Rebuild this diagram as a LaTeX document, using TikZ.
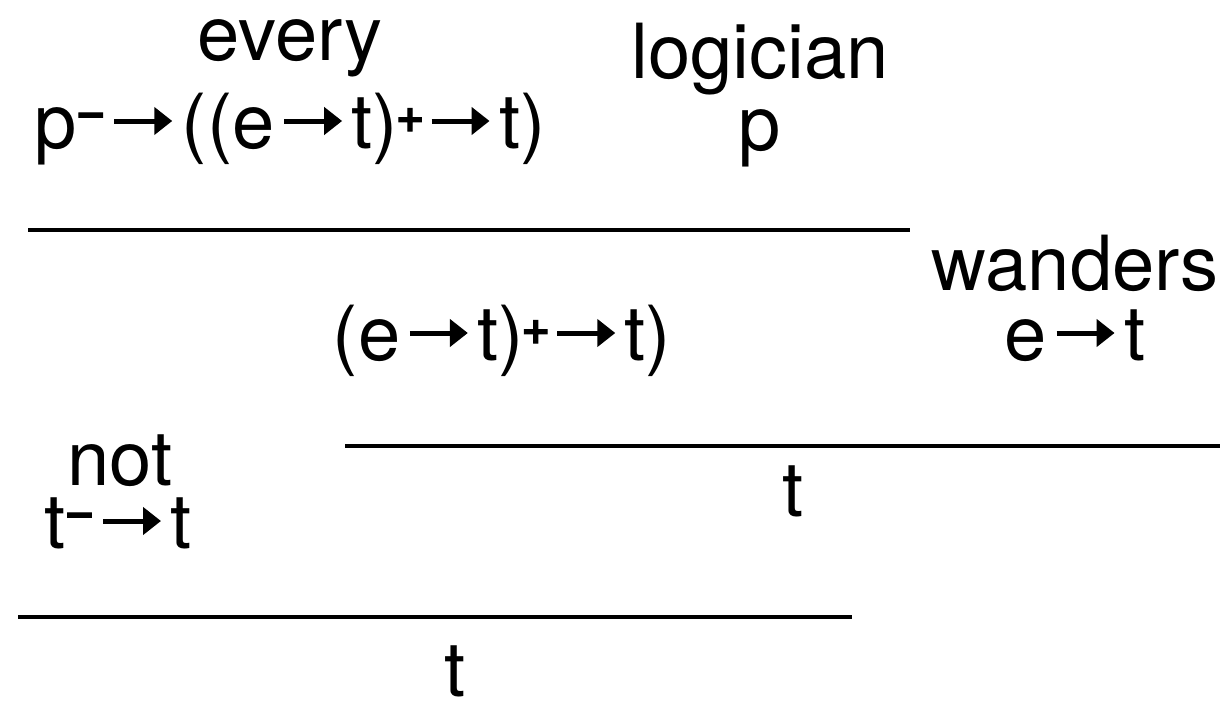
\documentclass[tikz,border=0pt]{standalone}
\usepackage{fontspec}
\setmainfont{TeX Gyre Heros}
\newfontfamily\supfont[FakeBold=3]{DejaVu Sans}
\usetikzlibrary{arrows.meta}
\newcommand\myar{\hspace{7pt}\tikz[baseline=0pt]\draw[line width=5pt,-{Triangle[length=18pt,width=27pt]}] (0pt,27pt) -- (58pt,27pt);\hspace{7pt}}
\newcommand\supp{\makebox[24pt][c]{\raisebox{17pt}{\supfont\bfseries\fontsize{36}{36}\selectfont +}}}
\newcommand\supm{\makebox[28pt][c]{\raisebox{21pt}{\supfont\bfseries\fontsize{38}{38}\selectfont −}}}
\begin{document}
\begin{tikzpicture}[x=1pt,y=-1pt,
  lbl/.style={inner sep=0pt,anchor=base,font=\fontsize{76}{76}\selectfont},
  bar/.style={line width=4pt}]
\useasboundingbox (0,0) rectangle (1220,701);
\node[lbl] (every) at (290,60) {every};
\node[lbl] (everyt) at (290,148) {p\supm\myar((e\myar t)\supp\myar t)};
\node[lbl] (logician) at (760,78) {logician};
\node[lbl] (logiciant) at (760,150) {p};
\coordinate (b1l) at (28,230);
\coordinate (b1r) at (910,230);
\draw[bar] (b1l) -- (b1r);
\node[lbl] (wanders) at (1075,290) {wanders};
\node[lbl] (wanderst) at (1075,360) {e\myar t};
\node[lbl] (np) at (502,360) {(e\myar t)\supp\myar t)};
\coordinate (b2l) at (345,446);
\coordinate (b2r) at (1220,446);
\draw[bar] (b2l) -- (b2r);
\node[lbl] (s) at (793,516) {t};
\node[lbl] (not) at (120,485) {not};
\node[lbl] (nott) at (118,548) {t\supm\myar t};
\coordinate (b3l) at (18,617);
\coordinate (b3r) at (852,617);
\draw[bar] (b3l) -- (b3r);
\node[lbl] (root) at (455,696) {t};
\end{tikzpicture}
\end{document}
